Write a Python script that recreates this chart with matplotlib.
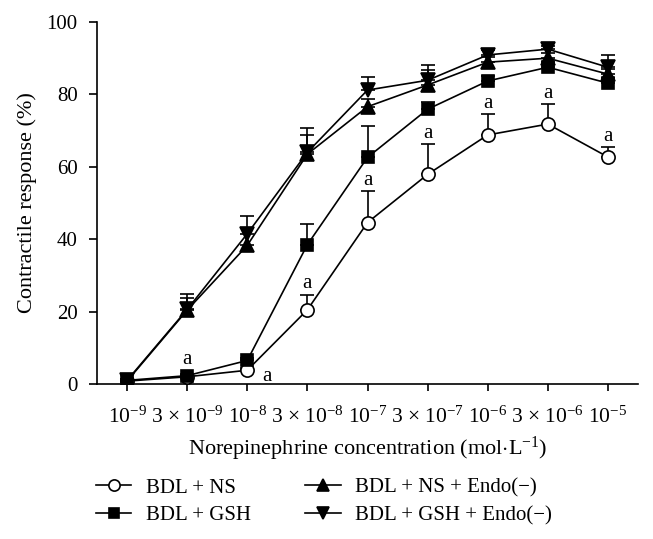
import numpy as np
import matplotlib
matplotlib.use('Agg')
import matplotlib.pyplot as plt

plt.rcParams['font.family'] = ['Liberation Serif', 'DejaVu Serif']
plt.rcParams['mathtext.fontset'] = 'custom'
plt.rcParams['mathtext.rm'] = 'Liberation Serif'
plt.rcParams['mathtext.it'] = 'Liberation Serif:italic'

# norepinephrine concentrations (log-spaced, shown as categories)
tick_labels = [r'10$^{-9}$', r'3 × 10$^{-9}$', r'10$^{-8}$', r'3 × 10$^{-8}$',
               r'10$^{-7}$', r'3 × 10$^{-7}$', r'10$^{-6}$', r'3 × 10$^{-6}$',
               r'10$^{-5}$']

# mean contractile response (%) and upper SEM for each group
ns = [0.8, 2.0, 3.8, 20.5, 44.6, 57.9, 68.8, 71.8, 62.7]
ns_err = [0.3, 0.5, 0.5, 4.2, 8.6, 8.3, 5.8, 5.5, 2.8]
gsh = [1.0, 2.3, 6.5, 38.5, 62.6, 75.9, 83.7, 87.5, 83.1]
gsh_err = [0.3, 0.5, 0.8, 5.8, 8.6, 2.0, 1.5, 1.5, 1.5]
ns_endo = [0.8, 20.4, 38.3, 63.5, 76.6, 82.6, 88.9, 90.0, 85.6]
ns_endo_err = [0.5, 3.4, 4.9, 5.2, 2.0, 4.1, 1.5, 1.5, 1.5]
gsh_endo = [1.0, 20.6, 41.5, 64.0, 81.2, 83.9, 90.9, 92.5, 87.5]
gsh_endo_err = [0.5, 4.4, 4.8, 6.6, 3.6, 4.1, 1.5, 1.0, 3.5]

# points marked "a" (BDL + NS above error bar, plus two special spots)
a_ns_idx = [3, 4, 5, 6, 7, 8]

fig = plt.figure(figsize=(6.53, 5.39), dpi=100, facecolor='white')
ax = fig.add_axes([97/653, 1-384/539, (638-97)/653, (384-22)/539])

x = np.arange(len(tick_labels))

series = [
    (ns, ns_err, 'o', 'white', 'BDL + NS'),
    (gsh, gsh_err, 's', 'black', 'BDL + GSH'),
    (ns_endo, ns_endo_err, '^', 'black', 'BDL + NS + Endo(\u2212)'),
    (gsh_endo, gsh_endo_err, 'v', 'black', 'BDL + GSH + Endo(\u2212)'),
]

for vals, err, mk, fc, lab in series:
    vals = np.array(vals)
    ax.errorbar(x, vals, yerr=[np.zeros(len(vals)), err], fmt='none',
                ecolor='black', elinewidth=1.2, capsize=4.7, capthick=1.2, zorder=2)
    ax.plot(x, vals, color='black', lw=1.2, marker=mk, markersize=9.5 if mk != 's' else 9,
            markerfacecolor=fc, markeredgecolor='black', markeredgewidth=1.2,
            label=lab, zorder=3)

# significance marks
for i in a_ns_idx:
    ax.text(x[i], ns[i] + ns_err[i] + 0.3, 'a', ha='center', va='bottom', fontsize=15)
ax.text(x[1], gsh[1] + 1.8, 'a', ha='center', va='bottom', fontsize=15)
ax.text(x[2] + 0.32, ns[2] - 1.6, 'a', ha='center', va='center', fontsize=15)

ax.set_xlim(-0.5, 8.5)
ax.set_ylim(0, 100)
ax.set_yticks([0, 20, 40, 60, 80, 100])
ax.set_xticks(x)
ax.set_xticklabels(tick_labels)
for s in ['top', 'right']:
    ax.spines[s].set_visible(False)
for s in ['left', 'bottom']:
    ax.spines[s].set_linewidth(1.2)
ax.tick_params(axis='y', direction='out', length=6, width=1.2, pad=8, labelsize=15)
ax.tick_params(axis='x', direction='out', length=5, width=1.2, pad=11, labelsize=15.5)

ax.set_ylabel('Contractile response (%)', fontsize=16, labelpad=7)
ax.set_xlabel(r'Norepinephrine concentration (mol$\cdot$L$^{-1}$)', fontsize=16, labelpad=5)

fig.legend(loc='upper left', bbox_to_anchor=(96/653, 1-478/539), ncol=2,
           frameon=False, fontsize=15, handlelength=1.7, handletextpad=0.7,
           columnspacing=2.6, labelspacing=0.4, borderpad=0, borderaxespad=0,
           markerscale=0.85)

fig.savefig('out.png', dpi=100, facecolor='white')
